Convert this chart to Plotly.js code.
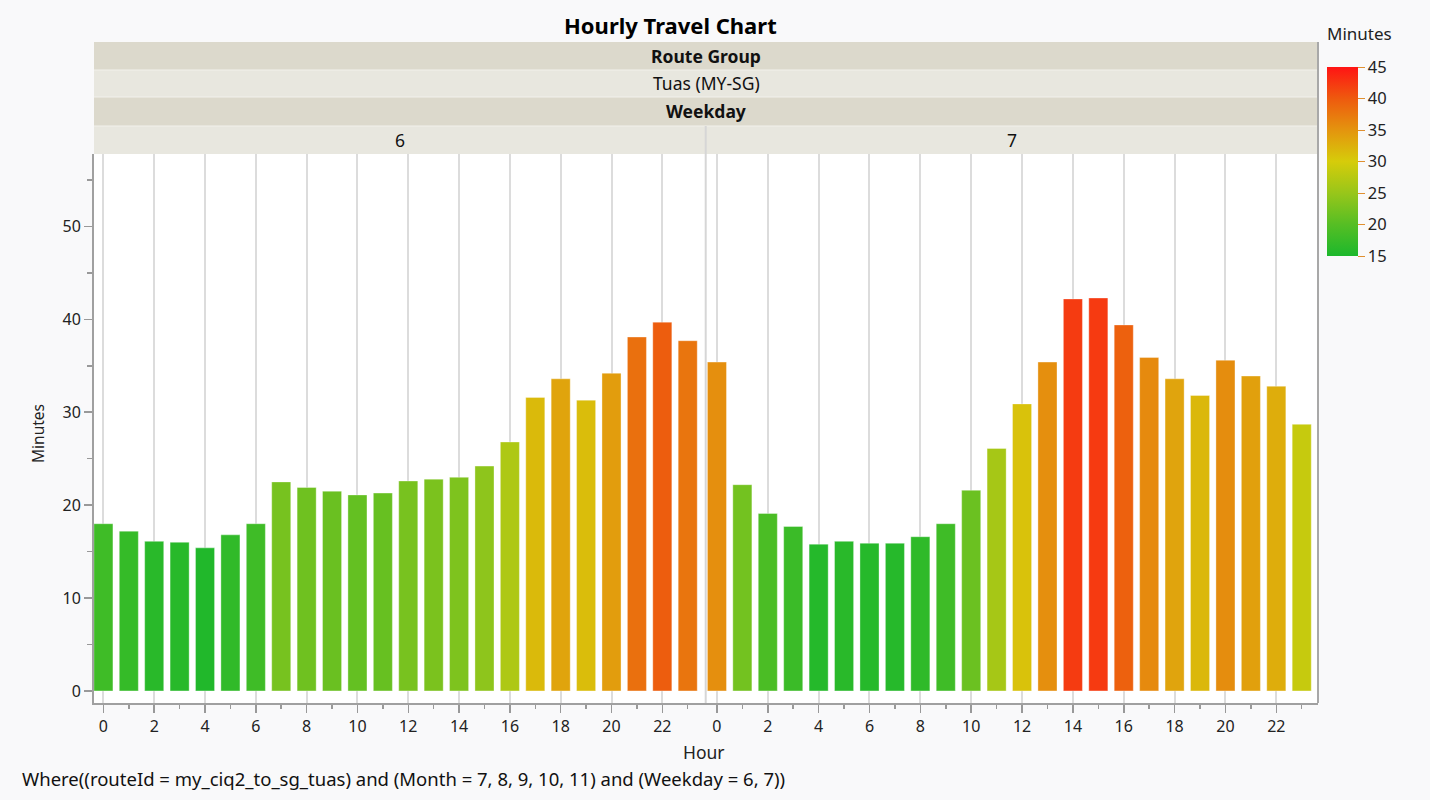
<!DOCTYPE html>
<html>
<head>
<meta charset="utf-8">
<script src="https://cdn.plot.ly/plotly-3.0.1.min.js"></script>
<style>
  body { margin: 0; background: #f9f9fa; }
  #chart { width: 1430px; height: 800px; }
</style>
</head>
<body>
<div id="chart"></div>
<script>
// ---------------- data ----------------
var hours = [0, 1, 2, 3, 4, 5, 6, 7, 8, 9, 10, 11, 12, 13, 14, 15, 16, 17, 18, 19, 20, 21, 22, 23];
var weekdays = ['6', '7'];
var minutesWeekday6 = [18.0, 17.2, 16.1, 16.0, 15.4, 16.8, 18.0, 22.5, 21.9, 21.5, 21.1, 21.3,
                       22.6, 22.8, 23.0, 24.2, 26.8, 31.6, 33.6, 31.3, 34.2, 38.1, 39.7, 37.7];
var minutesWeekday7 = [35.4, 22.2, 19.1, 17.7, 15.8, 16.1, 15.9, 15.9, 16.6, 18.0, 21.6, 26.1,
                       30.9, 35.4, 42.2, 42.3, 39.4, 35.9, 33.6, 31.8, 35.6, 33.9, 32.8, 28.7];
var chartTitle = 'Hourly Travel Chart';
var routeGroup = 'Tuas (MY-SG)';
var whereText = 'Where((routeId = my_ciq2_to_sg_tuas) and (Month = 7, 8, 9, 10, 11) and (Weekday = 6, 7))';

// ---------------- pixel helpers (plot area 94..1318 x 154..703) ----------------
var L = 94, R = 1318, T = 154, B = 703;
function px(x) { return (x - L) / (R - L); }
function py(y) { return (B - y) / (B - T); }

var FONT = '"Noto Sans", "Open Sans", sans-serif';
var DARK = '#dcd9cc', LIGHT = '#e8e7df';

/* -------- bars -------- */
function barTrace(vals, xa) {
  return {
    type: 'bar',
    x: hours,
    y: vals,
    xaxis: xa,
    yaxis: 'y',
    width: 0.75,
    marker: {
      color: vals,
      coloraxis: 'coloraxis',
      line: {color: 'rgba(255,255,255,0.35)', width: 1}
    },
    hovertemplate: 'Hour %{x}<br>%{y:.1f} min<extra></extra>'
  };
}
var data = [barTrace(minutesWeekday6, 'x'), barTrace(minutesWeekday7, 'x2')];

/* -------- strips -------- */
var shapes = [];
var annotations = [];
function note(x, y, text, font, extra) {
  annotations.push(Object.assign({xref: 'paper', yref: 'paper', x: px(x), y: py(y),
    xanchor: 'center', yanchor: 'middle', showarrow: false, text: text, font: font}, extra || {}));
}
function strip(y0, y1, x0, x1, fill, text, bold) {
  shapes.push({type: 'rect', xref: 'paper', yref: 'paper', layer: 'below',
    x0: px(x0), x1: px(x1), y0: py(y1), y1: py(y0),
    fillcolor: fill, line: {width: 0}});
  note((x0 + x1) / 2, (y0 + y1) / 2, bold ? '<b>' + text + '</b>' : text,
    {family: FONT, size: 17.5, color: '#111'});
}
strip(42, 70, L, R, DARK, 'Route Group', true);
strip(70, 97, L, R, LIGHT, routeGroup, false);
strip(97, 126, L, R, DARK, 'Weekday', true);
strip(126, 154, L, 705.5, LIGHT, weekdays[0], false);
strip(126, 154, 706, R, LIGHT, weekdays[1], false);

// thin separators between strip rows
[70, 97, 126].forEach(function (y) {
  shapes.push({type: 'line', xref: 'paper', yref: 'paper', x0: 0, x1: 1, y0: py(y), y1: py(y),
    line: {color: '#f2f1ec', width: 1}});
});
// panel divider and right border
shapes.push({type: 'line', xref: 'paper', yref: 'paper', x0: px(705.7), x1: px(705.7),
  y0: 0, y1: py(126), line: {color: '#d6d6d6', width: 2}});
shapes.push({type: 'line', xref: 'paper', yref: 'paper', x0: 1, x1: 1,
  y0: 0, y1: py(42), line: {color: '#a8a8a8', width: 2}});

/* -------- titles & notes -------- */
note(670, 25, '<b>' + chartTitle + '</b>', {family: FONT, size: 22, color: '#000'});
note(704, 752, 'Hour', {family: FONT, size: 17.5, color: '#222'});
note(38, 434, 'Minutes', {family: FONT, size: 15.5, color: '#222'}, {textangle: -90});
note(20, 778, whereText, {family: FONT, size: 18.5, color: '#111'}, {xanchor: 'left'});
note(1359, 34, 'Minutes', {family: FONT, size: 17, color: '#222'});

/* -------- axes -------- */
var xBase = {
  anchor: 'y',
  tick0: 0, dtick: 2,
  showgrid: true, gridcolor: '#dcdcdc', gridwidth: 2,
  ticks: 'outside', ticklen: 8, tickwidth: 1.5, tickcolor: '#999',
  minor: {dtick: 1, ticks: 'outside', ticklen: 4, tickcolor: '#999', showgrid: false},
  showline: true, linecolor: '#a0a0a0', linewidth: 2,
  zeroline: false, fixedrange: true,
  tickfont: {family: FONT, size: 16, color: '#222'}
};

var layout = {
  width: 1430, height: 800,
  margin: {l: L, r: 1430 - R, t: T, b: 800 - B},
  paper_bgcolor: '#f9f9fa',
  plot_bgcolor: '#ffffff',
  showlegend: false,
  bargap: 0,
  xaxis: Object.assign({}, xBase, {domain: [0, px(705.5)], range: [-0.37, 23.7]}),
  xaxis2: Object.assign({}, xBase, {domain: [px(706), 1], range: [-0.43, 23.64]}),
  yaxis: {
    range: [-1.3, 57.8], dtick: 10,
    showgrid: false, zeroline: false,
    showline: true, linecolor: '#a0a0a0', linewidth: 2,
    ticks: 'outside', ticklen: 8, tickwidth: 1.5, tickcolor: '#999',
    minor: {dtick: 5, ticks: 'outside', ticklen: 5, tickcolor: '#999'},
    tickfont: {family: FONT, size: 16, color: '#222'}
  },
  coloraxis: {
    cmin: 15, cmax: 45,
    colorscale: [
      [0, 'rgb(28,184,44)'],
      [0.167, 'rgb(86,190,36)'],
      [0.333, 'rgb(152,198,26)'],
      [0.5, 'rgb(214,204,10)'],
      [0.667, 'rgb(228,148,14)'],
      [0.833, 'rgb(238,90,14)'],
      [1, 'rgb(255,20,20)']
    ],
    colorbar: {
      x: px(1327), xanchor: 'left', xpad: 0,
      y: py(67), yanchor: 'top', ypad: 0,
      len: 189, lenmode: 'pixels',
      thickness: 31, outlinewidth: 0,
      tickvals: [15, 20, 25, 30, 35, 40, 45],
      ticks: 'outside', ticklen: 7, tickcolor: '#e09030',
      tickfont: {family: FONT, size: 16.5, color: '#222'}
    }
  },
  shapes: shapes,
  annotations: annotations
};

Plotly.newPlot('chart', data, layout, {displayModeBar: false, staticPlot: true});
</script>
</body>
</html>
